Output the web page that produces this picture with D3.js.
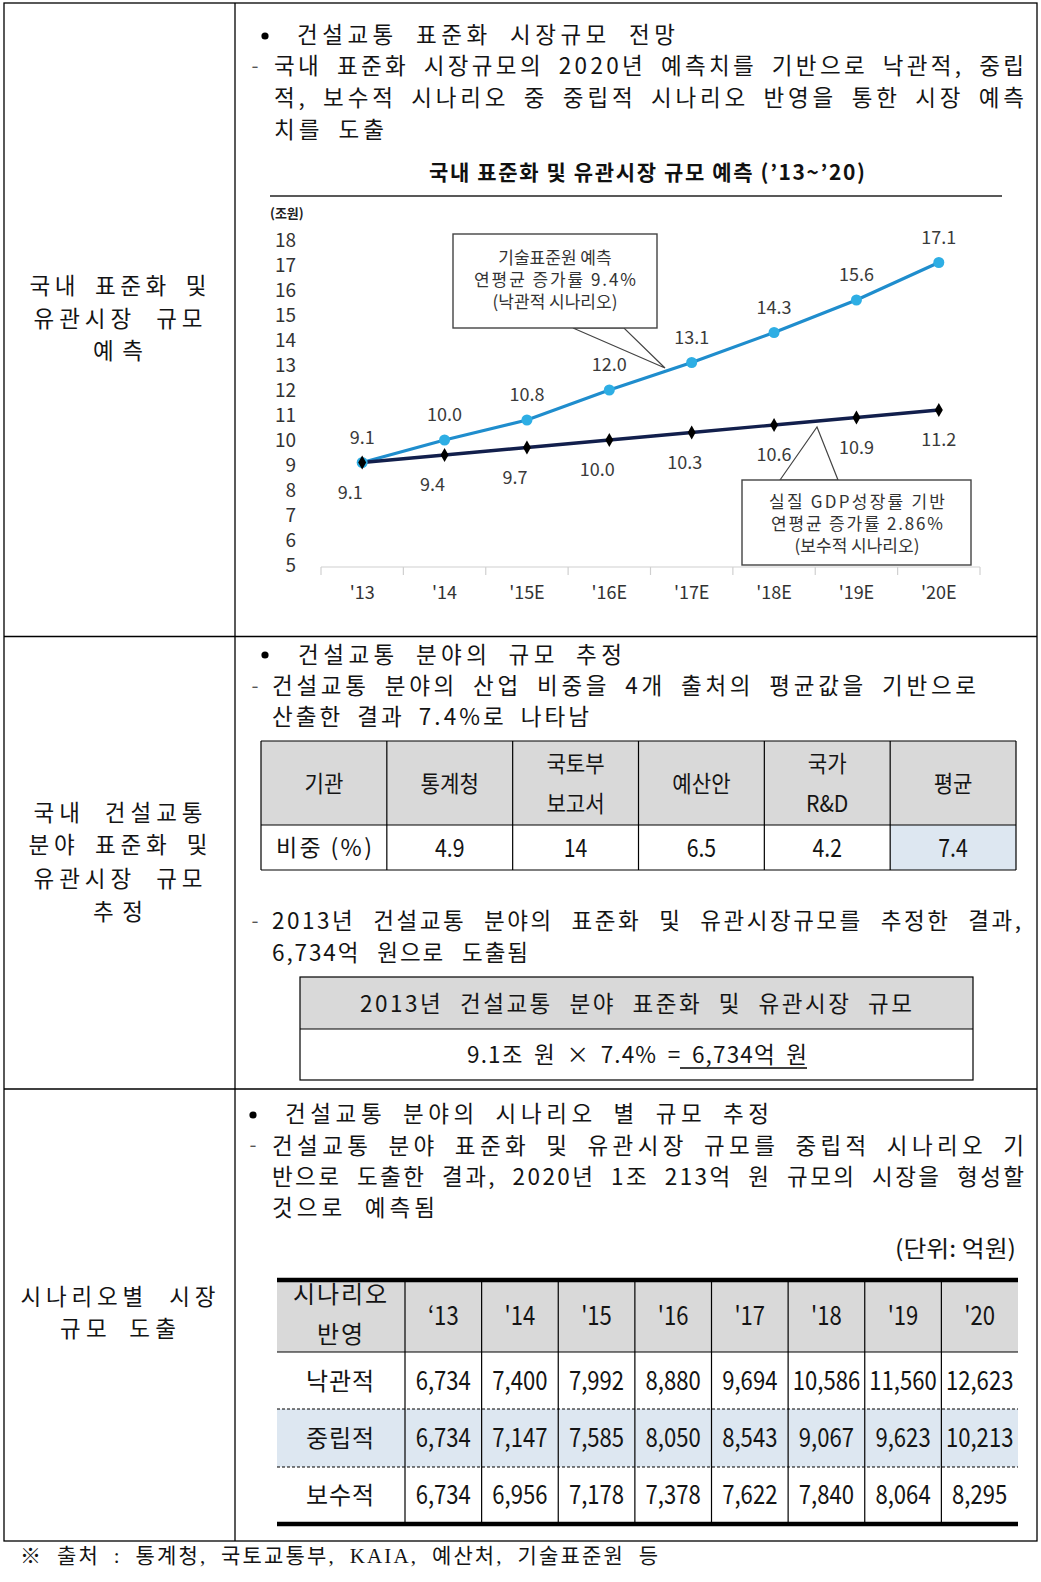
<!DOCTYPE html>
<html>
<head>
<meta charset="utf-8">
<script src="https://cdn.jsdelivr.net/npm/d3@7"></script>
<style>
  html, body { margin: 0; padding: 0; background: #fff; }
  svg { display: block; }
</style>
</head>
<body>
<div id="chart"></div>
<script>
// ---------------- DATA ----------------
const chartYears = ["'13", "'14", "'15E", "'16E", "'17E", "'18E", "'19E", "'20E"];
const optimisticSeries = [9.1, 10.0, 10.8, 12.0, 13.1, 14.3, 15.6, 17.1];
const conservativeSeries = [9.1, 9.4, 9.7, 10.0, 10.3, 10.6, 10.9, 11.2];
const yTicks = [5, 6, 7, 8, 9, 10, 11, 12, 13, 14, 15, 16, 17, 18];

const shareHeaderLabel = "기관";
const shareRowLabel = "비중 (%)";
const shareOrgs = [["통계청"], ["국토부", "보고서"], ["예산안"], ["국가", "R&D"], ["평균"]];
const shareValues = [4.9, 14, 6.5, 4.2, 7.4];

const scenarioHeader = ["시나리오", "반영"];
const scenarioYears = ["‘13", "'14", "'15", "'16", "'17", "'18", "'19", "'20"];
const scenarioNames = ["낙관적", "중립적", "보수적"];
const optimisticTable = [6734, 7400, 7992, 8880, 9694, 10586, 11560, 12623];
const neutralTable = [6734, 7147, 7585, 8050, 8543, 9067, 9623, 10213];
const conservativeTable = [6734, 6956, 7178, 7378, 7622, 7840, 8064, 8295];

// ---------------- SETUP ----------------
const W = 1041, H = 1582;
const BODY = "'Noto Sans CJK KR', 'Noto Sans', sans-serif";
const SERIF = "'Liberation Serif', 'Noto Sans CJK KR', serif";
const svg = d3.select("#chart").append("svg").attr("width", W).attr("height", H);
svg.append("rect").attr("width", W).attr("height", H).attr("fill", "#fff");

function T(parent, x, y, s, o = {}) {
  const t = parent.append("text")
    .attr("x", x).attr("y", y).attr("dy", o.dy || "0.36em")
    .attr("font-size", o.size || 22)
    .attr("font-family", o.family || BODY)
    .attr("text-anchor", o.anchor || "start")
    .attr("fill", o.fill || "#141414")
    .text(s);
  if (o.weight) t.attr("font-weight", o.weight);
  if (o.len) t.attr("textLength", o.len).attr("lengthAdjust", o.adjust || "spacing");
  if (o.sx) t.attr("transform", `translate(${x},${y}) scale(${o.sx},1) translate(${-x},${-y})`);
  return t;
}
// justified line: part of the extra room goes to word spaces, the rest to letter spacing
function J(parent, x, y, s, len, o = {}) {
  const t = parent.append("text")
    .attr("x", x).attr("y", y).attr("dy", "0.36em")
    .attr("font-size", o.size || 22.5)
    .attr("font-family", o.family || BODY)
    .attr("text-anchor", o.anchor || "start")
    .attr("fill", o.fill || "#141414")
    .text(s);
  const w = t.node().getComputedTextLength();
  const nsp = (s.match(/ /g) || []).length;
  const extra = len - w;
  if (extra > 0 && nsp > 0) {
    t.attr("word-spacing", (extra * (o.wordShare ?? 0.28)) / nsp);
  }
  t.attr("textLength", len).attr("lengthAdjust", "spacing");
  return t;
}
function L(parent, x1, y1, x2, y2, o = {}) {
  return parent.append("line").attr("x1", x1).attr("y1", y1).attr("x2", x2).attr("y2", y2)
    .attr("stroke", o.stroke || "#000").attr("stroke-width", o.w || 1)
    .attr("stroke-dasharray", o.dash || null);
}

// ---------------- OUTER GRID ----------------
const grid = svg.append("g");
grid.append("rect").attr("x", 4).attr("y", 3).attr("width", 1033).attr("height", 1538)
  .attr("fill", "none").attr("stroke", "#000").attr("stroke-width", 1.3);
L(grid, 235, 3, 235, 1541, { w: 1.3 });
L(grid, 4, 636.5, 1037, 636.5, { w: 1.3 });
L(grid, 4, 1089, 1037, 1089, { w: 1.3 });

// Left column labels
const left = svg.append("g");
const lo = { anchor: "middle", wordShare: 0.25 };
J(left, 118, 286, "국내 표준화 및", 177, lo);
J(left, 118, 319, "유관시장 규모", 169, lo);
J(left, 118, 351, "예측", 50, lo);
J(left, 118, 813, "국내 건설교통", 169, lo);
J(left, 118, 845, "분야 표준화 및", 179, lo);
J(left, 118, 879, "유관시장 규모", 169, lo);
J(left, 118, 912, "추정", 50, lo);
J(left, 118, 1297, "시나리오별 시장", 195, lo);
J(left, 118, 1329, "규모 도출", 116, lo);

// ---------------- SECTION 1 TEXT ----------------
const s1 = svg.append("g");
s1.append("circle").attr("cx", 265).attr("cy", 36).attr("r", 3.6).attr("fill", "#000");
J(s1, 297, 35, "건설교통 표준화 시장규모 전망", 378);
T(s1, 255, 66, "-", { anchor: "middle", size: 20, fill: "#555" });
J(s1, 274, 66, "국내 표준화 시장규모의 2020년 예측치를 기반으로 낙관적, 중립", 750);
J(s1, 274, 98, "적, 보수적 시나리오 중 중립적 시나리오 반영을 통한 시장 예측", 750);
J(s1, 274, 130, "치를 도출", 110);

// Chart title
T(s1, 647, 172, "국내 표준화 및 유관시장 규모 예측 (’13~’20)", { anchor: "middle", size: 21, weight: 700, len: 436, fill: "#111" });
L(s1, 270, 196, 1002, 196, { stroke: "#222", w: 1.5 });
T(s1, 270, 213, "(조원)", { size: 13, weight: 700, fill: "#222" });

// ---------------- CHART ----------------
const ch = svg.append("g");
const x = d3.scaleBand().domain(chartYears).range([321, 980]);
const y = d3.scaleLinear().domain([5, 18]).range([565, 240]);
const cx = d => x(d) + x.bandwidth() / 2;

// y axis
const yAx = ch.append("g").attr("transform", "translate(296,0)")
  .call(d3.axisLeft(y).tickValues(yTicks).tickSize(0).tickPadding(0).tickFormat(d3.format("d")));
yAx.select(".domain").remove();
yAx.selectAll("text").attr("font-size", 19).attr("font-family", BODY).attr("fill", "#333");

// x axis
L(ch, 321, 567, 980, 567, { stroke: "#d0d0d0", w: 1.2 });
chartYears.concat([null]).forEach(d => {
  const xx = d === null ? x.range()[1] : x(d);
  L(ch, xx, 567, xx, 575, { stroke: "#d0d0d0", w: 1.2 });
});
const xAx = ch.append("g").attr("transform", "translate(0,567)")
  .call(d3.axisBottom(x).tickSize(0).tickPadding(19));
xAx.select(".domain").remove();
xAx.selectAll("text").attr("font-size", 18).attr("font-family", BODY).attr("fill", "#333");

// lines
const lineGen = d3.line().x((d, i) => cx(chartYears[i])).y(d => y(d));
ch.append("path").datum(optimisticSeries).attr("d", lineGen)
  .attr("fill", "none").attr("stroke", "#1f8dcd").attr("stroke-width", 3.2);
ch.append("path").datum(conservativeSeries).attr("d", lineGen)
  .attr("fill", "none").attr("stroke", "#121f4c").attr("stroke-width", 3.4);

ch.selectAll(".optPt").data(optimisticSeries).enter().append("circle")
  .attr("cx", (d, i) => cx(chartYears[i])).attr("cy", d => y(d)).attr("r", 5.5)
  .attr("fill", "#2eaee4");
ch.selectAll(".conPt").data(conservativeSeries).enter().append("path")
  .attr("d", d3.symbol().type(d3.symbolDiamond).size(55))
  .attr("transform", (d, i) => `translate(${cx(chartYears[i])},${y(d)})`)
  .attr("fill", "#000");

// data labels
const f1 = d3.format(".1f");
optimisticSeries.forEach((d, i) => {
  T(ch, cx(chartYears[i]), y(d) - 25, f1(d), { anchor: "middle", size: 18, fill: "#3a3a3a" });
});
const lowDx = i => (i < 4 ? -12 : (i === 4 ? -7 : 0));
conservativeSeries.forEach((d, i) => {
  T(ch, cx(chartYears[i]) + lowDx(i), y(d) + 30, f1(d), { anchor: "middle", size: 18, fill: "#3a3a3a" });
});

// callout 1 (optimistic)
const co = svg.append("g");
co.append("path").attr("d", "M573,328 L665,368 L624,328 Z")
  .attr("fill", "#fff").attr("stroke", "#444").attr("stroke-width", 1.2);
co.append("rect").attr("x", 453).attr("y", 234).attr("width", 204).attr("height", 94)
  .attr("fill", "#fff").attr("stroke", "#444").attr("stroke-width", 1.4);
T(co, 555, 258, "기술표준원 예측", { anchor: "middle", size: 17, fill: "#333" });
T(co, 555, 280, "연평균 증가률 9.4%", { anchor: "middle", size: 17, fill: "#333", len: 162 });
T(co, 555, 302, "(낙관적 시나리오)", { anchor: "middle", size: 17, fill: "#333" });

// callout 2 (conservative)
co.append("path").attr("d", "M780,480 L817,427 L838,480 Z")
  .attr("fill", "#fff").attr("stroke", "#444").attr("stroke-width", 1.2);
co.append("rect").attr("x", 742).attr("y", 480).attr("width", 229).attr("height", 85)
  .attr("fill", "#fff").attr("stroke", "#444").attr("stroke-width", 1.4);
T(co, 857, 502, "실질 GDP성장률 기반", { anchor: "middle", size: 17, fill: "#333", len: 176 });
T(co, 857, 524, "연평균 증가률 2.86%", { anchor: "middle", size: 17, fill: "#333", len: 172 });
T(co, 857, 546, "(보수적 시나리오)", { anchor: "middle", size: 17, fill: "#333" });

// ---------------- SECTION 2 ----------------
const s2 = svg.append("g");
s2.append("circle").attr("cx", 265).attr("cy", 655).attr("r", 3.6).attr("fill", "#000");
J(s2, 298, 655, "건설교통 분야의 규모 추정", 324);
T(s2, 255, 686, "-", { anchor: "middle", size: 20, fill: "#555" });
J(s2, 272, 686, "건설교통 분야의 산업 비중을 4개 출처의 평균값을 기반으로", 704);
J(s2, 272, 717, "산출한 결과 7.4%로 나타남", 317);

// share table
const shareCols = [shareHeaderLabel].concat(shareOrgs.map(d => d.join(" ")));
const sx2 = d3.scaleBand().domain(shareCols).range([261, 1016]);
const tTop = 741, tMid = 825, tBot = 870;
const tb = s2.append("g");
tb.append("rect").attr("x", 261).attr("y", tTop).attr("width", 755).attr("height", tMid - tTop).attr("fill", "#d9d9d9");
const lastCol = shareCols[shareCols.length - 1];
tb.append("rect").attr("x", sx2(lastCol)).attr("y", tMid).attr("width", sx2.bandwidth()).attr("height", tBot - tMid).attr("fill", "#dde7f1");
[tTop, tMid, tBot].forEach(yy => L(tb, 261, yy, 1016, yy, { w: 1.2 }));
shareCols.forEach(c => L(tb, sx2(c), tTop, sx2(c), tBot, { w: 1.2 }));
L(tb, 1016, tTop, 1016, tBot, { w: 1.2 });
const sc = c => sx2(c) + sx2.bandwidth() / 2;
T(tb, sc(shareHeaderLabel), 784, shareHeaderLabel, { anchor: "middle", size: 23, sx: 0.92 });
shareOrgs.forEach((lines, i) => {
  const c = shareCols[i + 1];
  if (lines.length === 1) {
    T(tb, sc(c), 784, lines[0], { anchor: "middle", size: 23, sx: 0.92 });
  } else {
    T(tb, sc(c), 764, lines[0], { anchor: "middle", size: 23, sx: 0.92 });
    T(tb, sc(c), 804, lines[1], { anchor: "middle", size: 23, sx: 0.92 });
  }
});
T(tb, sc(shareHeaderLabel), 848, shareRowLabel, { anchor: "middle", size: 23, len: 96 });
shareValues.forEach((v, i) => {
  T(tb, sc(shareCols[i + 1]), 848, String(v), { anchor: "middle", size: 25, sx: 0.85 });
});

T(s2, 255, 921, "-", { anchor: "middle", size: 20, fill: "#555" });
J(s2, 272, 921, "2013년 건설교통 분야의 표준화 및 유관시장규모를 추정한 결과,", 749, { wordShare: 0.45 });
J(s2, 272, 953, "6,734억 원으로 도출됨", 256, { wordShare: 0.45 });

// result box
const bx = s2.append("g");
bx.append("rect").attr("x", 300).attr("y", 977).attr("width", 673).attr("height", 52).attr("fill", "#d9d9d9");
bx.append("rect").attr("x", 300).attr("y", 977).attr("width", 673).attr("height", 103)
  .attr("fill", "none").attr("stroke", "#000").attr("stroke-width", 1.2);
L(bx, 300, 1029, 973, 1029, { w: 1.2 });
J(bx, 636, 1004, "2013년 건설교통 분야 표준화 및 유관시장 규모", 552, { anchor: "middle", wordShare: 0.45 });
J(bx, 637, 1055, "9.1조 원 × 7.4% = 6,734억 원", 340, { anchor: "middle", wordShare: 0.5 });
L(bx, 680, 1068, 807, 1068, { w: 1.3 });

// ---------------- SECTION 3 ----------------
const s3 = svg.append("g");
s3.append("circle").attr("cx", 253).attr("cy", 1115).attr("r", 3.6).attr("fill", "#000");
J(s3, 285, 1114, "건설교통 분야의 시나리오 별 규모 추정", 484);
T(s3, 253, 1145, "-", { anchor: "middle", size: 20, fill: "#555" });
J(s3, 272, 1146, "건설교통 분야 표준화 및 유관시장 규모를 중립적 시나리오 기", 752);
J(s3, 272, 1177, "반으로 도출한 결과, 2020년 1조 213억 원 규모의 시장을 형성할", 752, { wordShare: 0.45 });
J(s3, 272, 1208, "것으로 예측됨", 163);
T(s3, 1016, 1249, "(단위: 억원)", { anchor: "end", size: 23, len: 121, adjust: "spacingAndGlyphs" });

const tx = d3.scaleBand().domain(scenarioYears).range([405, 1018]);
const rowTop = 1280, hdrBot = 1352, r1 = 1409, r2 = 1467, rowBot = 1524;
const t3 = s3.append("g");
t3.append("rect").attr("x", 277).attr("y", rowTop).attr("width", 741).attr("height", hdrBot - rowTop).attr("fill", "#d9d9d9");
t3.append("rect").attr("x", 277).attr("y", r1).attr("width", 741).attr("height", r2 - r1).attr("fill", "#dde7f1");
L(t3, 277, hdrBot, 1018, hdrBot, { w: 1.2 });
L(t3, 277, r1, 1018, r1, { w: 1.2, dash: "3,2" });
L(t3, 277, r2, 1018, r2, { w: 1.2, dash: "3,2" });
scenarioYears.forEach(c => L(t3, tx(c), rowTop, tx(c), rowBot, { w: 1.2 }));
L(t3, 277, rowTop, 1018, rowTop, { w: 4.5 });
L(t3, 277, rowBot, 1018, rowBot, { w: 4.5 });

T(t3, 340, 1294, scenarioHeader[0], { anchor: "middle", size: 24, len: 94 });
T(t3, 340, 1334, scenarioHeader[1], { anchor: "middle", size: 24, len: 46 });
scenarioYears.forEach(c => {
  T(t3, tx(c) + tx.bandwidth() / 2, 1316, c, { anchor: "middle", size: 26, sx: 0.85 });
});
const fmt = d3.format(",");
const rowCenters = [1381, 1438, 1495];
[optimisticTable, neutralTable, conservativeTable].forEach((row, r) => {
  T(t3, 340, rowCenters[r], scenarioNames[r], { anchor: "middle", size: 24, len: 68 });
  row.forEach((v, i) => {
    T(t3, tx(scenarioYears[i]) + tx.bandwidth() / 2, rowCenters[r], fmt(v), { anchor: "middle", size: 26, sx: 0.85 });
  });
});

// footnote
J(svg, 20, 1555, "※ 출처 : 통계청, 국토교통부, KAIA, 예산처, 기술표준원 등", 638, { size: 21, family: SERIF, wordShare: 0.4 });
</script>
</body>
</html>
